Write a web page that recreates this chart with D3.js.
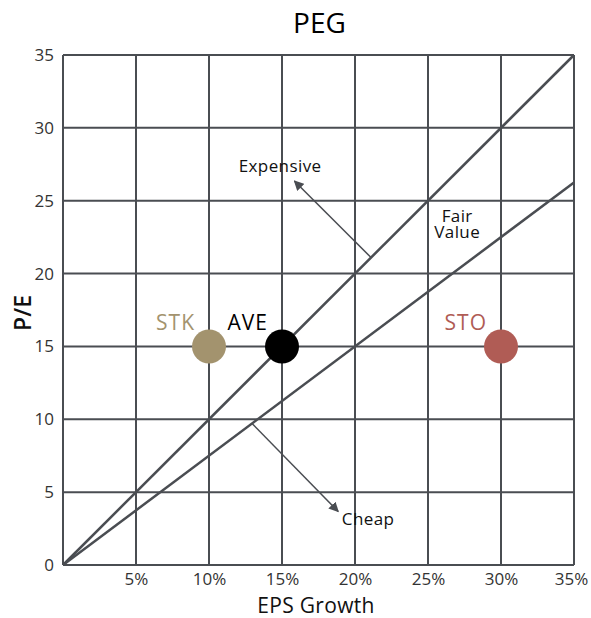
<!DOCTYPE html>
<html>
<head>
<meta charset="utf-8">
<script src="https://cdn.jsdelivr.net/npm/d3@7"></script>
<style>
  html, body { margin: 0; padding: 0; background: #fff; }
  svg { display: block; font-family: "Open Sans", "Noto Sans", sans-serif; }
</style>
</head>
<body>
<svg id="chart" width="591" height="618"></svg>
<script>
// Stocks plotted by EPS growth (%) and P/E
const names = ["STK", "AVE", "STO"];
const growth = [10, 15, 30];
const pe = [15, 15, 15];
const colors = ["#a3936e", "#000000", "#b05c55"];

// Reference lines: P/E = PEG × growth
const pegRatios = [1.0, 0.75];

const xTicks = [5, 10, 15, 20, 25, 30, 35];
const yTicks = [0, 5, 10, 15, 20, 25, 30, 35];

const svg = d3.select("#chart");
const margin = { left: 63, right: 17, top: 55, bottom: 53 };
const W = 591, H = 618;

const x = d3.scaleLinear().domain([0, 35]).range([margin.left, W - margin.right]);
const y = d3.scaleLinear().domain([0, 35]).range([H - margin.bottom, margin.top]);

const gridColor = "#4a4d52";
const fontStack = "\"Open Sans\", \"Noto Sans\", sans-serif";

// Grid
const grid = svg.append("g");
grid.selectAll("line.v").data(xTicks).join("line")
  .attr("x1", d => x(d)).attr("x2", d => x(d))
  .attr("y1", y(0)).attr("y2", y(35))
  .attr("stroke", gridColor).attr("stroke-width", 2);
grid.selectAll("line.h").data(yTicks).join("line")
  .attr("x1", x(0)).attr("x2", x(35))
  .attr("y1", d => y(d)).attr("y2", d => y(d))
  .attr("stroke", gridColor).attr("stroke-width", 2);
grid.append("line")
  .attr("x1", x(0)).attr("x2", x(0)).attr("y1", y(0)).attr("y2", y(35))
  .attr("stroke", gridColor).attr("stroke-width", 2);

// Axes
const xAxis = svg.append("g")
  .attr("transform", `translate(0,${y(0)})`)
  .call(d3.axisBottom(x).tickValues(xTicks).tickSize(0).tickPadding(8).tickFormat(d => d + "%"));
const yAxis = svg.append("g")
  .attr("transform", `translate(${x(0)},0)`)
  .call(d3.axisLeft(y).tickValues(yTicks).tickSize(0).tickPadding(9));
[xAxis, yAxis].forEach(a => {
  a.select(".domain").remove();
  a.selectAll("text").attr("fill", "#333").style("font-size", "17px")
    .style("font-family", fontStack);
});
// keep the last x label inside the frame
xAxis.selectAll(".tick").filter(d => d === 35).select("text").attr("dx", -3);

// PEG lines
const lineGen = d3.line().x(d => x(d[0])).y(d => y(d[1]));
svg.append("g").selectAll("path").data(pegRatios).join("path")
  .attr("d", r => lineGen([[0, 0], [35, 35 * r]]))
  .attr("fill", "none").attr("stroke", gridColor).attr("stroke-width", 2.5);

// Arrows
svg.append("defs").append("marker")
  .attr("id", "head").attr("viewBox", "0 0 10 10")
  .attr("refX", 9).attr("refY", 5)
  .attr("markerWidth", 10).attr("markerHeight", 10)
  .attr("markerUnits", "userSpaceOnUse")
  .attr("orient", "auto")
  .append("path").attr("d", "M0,0 L10,5 L0,10 Z").attr("fill", gridColor);

const arrows = [
  { from: [21.1, 21.1], to: [15.85, 26.35] },
  { from: [12.95, 9.71], to: [18.85, 3.67] }
];
svg.append("g").selectAll("line").data(arrows).join("line")
  .attr("x1", d => x(d.from[0])).attr("y1", d => y(d.from[1]))
  .attr("x2", d => x(d.to[0])).attr("y2", d => y(d.to[1]))
  .attr("stroke", gridColor).attr("stroke-width", 1.5)
  .attr("marker-end", "url(#head)");

// Annotation text (one text per note, lines as tspans)
const notes = [
  { lines: ["Expensive"], gx: 14.87, gy: 27.3 },
  { lines: ["Fair", "Value"], gx: 27.0, gy: 23.85 },
  { lines: ["Cheap"], gx: 20.9, gy: 3.1 }
];
const noteText = svg.append("g").selectAll("text").data(notes).join("text")
  .attr("text-anchor", "middle")
  .attr("dominant-baseline", "middle")
  .attr("fill", "#111").style("font-size", "17px").style("letter-spacing", "0.4px");
noteText.selectAll("tspan").data(d => d.lines.map((t, i) => ({ t, i, d }))).join("tspan")
  .attr("x", e => x(e.d.gx))
  .attr("y", e => y(e.d.gy) + e.i * 16)
  .text(e => e.t);

// Points
svg.append("g").selectAll("circle").data(names).join("circle")
  .attr("cx", (d, i) => x(growth[i])).attr("cy", (d, i) => y(pe[i]))
  .attr("r", 17).attr("fill", (d, i) => colors[i]);

svg.append("g").selectAll("text").data(names).join("text")
  .attr("x", (d, i) => x(growth[i]) - 14).attr("y", (d, i) => y(pe[i]) - 16)
  .attr("text-anchor", "end")
  .attr("fill", (d, i) => colors[i]).style("font-size", "21px").style("letter-spacing", "1px")
  .text(d => d);

// Titles
svg.append("text").attr("x", 319.5).attr("y", 33)
  .attr("text-anchor", "middle").style("font-size", "28px").attr("fill", "#000")
  .text("PEG");
svg.append("text").attr("x", 316).attr("y", 613)
  .attr("text-anchor", "middle").style("font-size", "21px").style("letter-spacing", "0.3px")
  .attr("fill", "#111")
  .text("EPS Growth");
svg.append("text")
  .attr("transform", `translate(31,313) rotate(-90)`)
  .attr("text-anchor", "middle").style("font-size", "23px").style("font-weight", 600)
  .attr("fill", "#111")
  .text("P/E");
</script>
</body>
</html>
